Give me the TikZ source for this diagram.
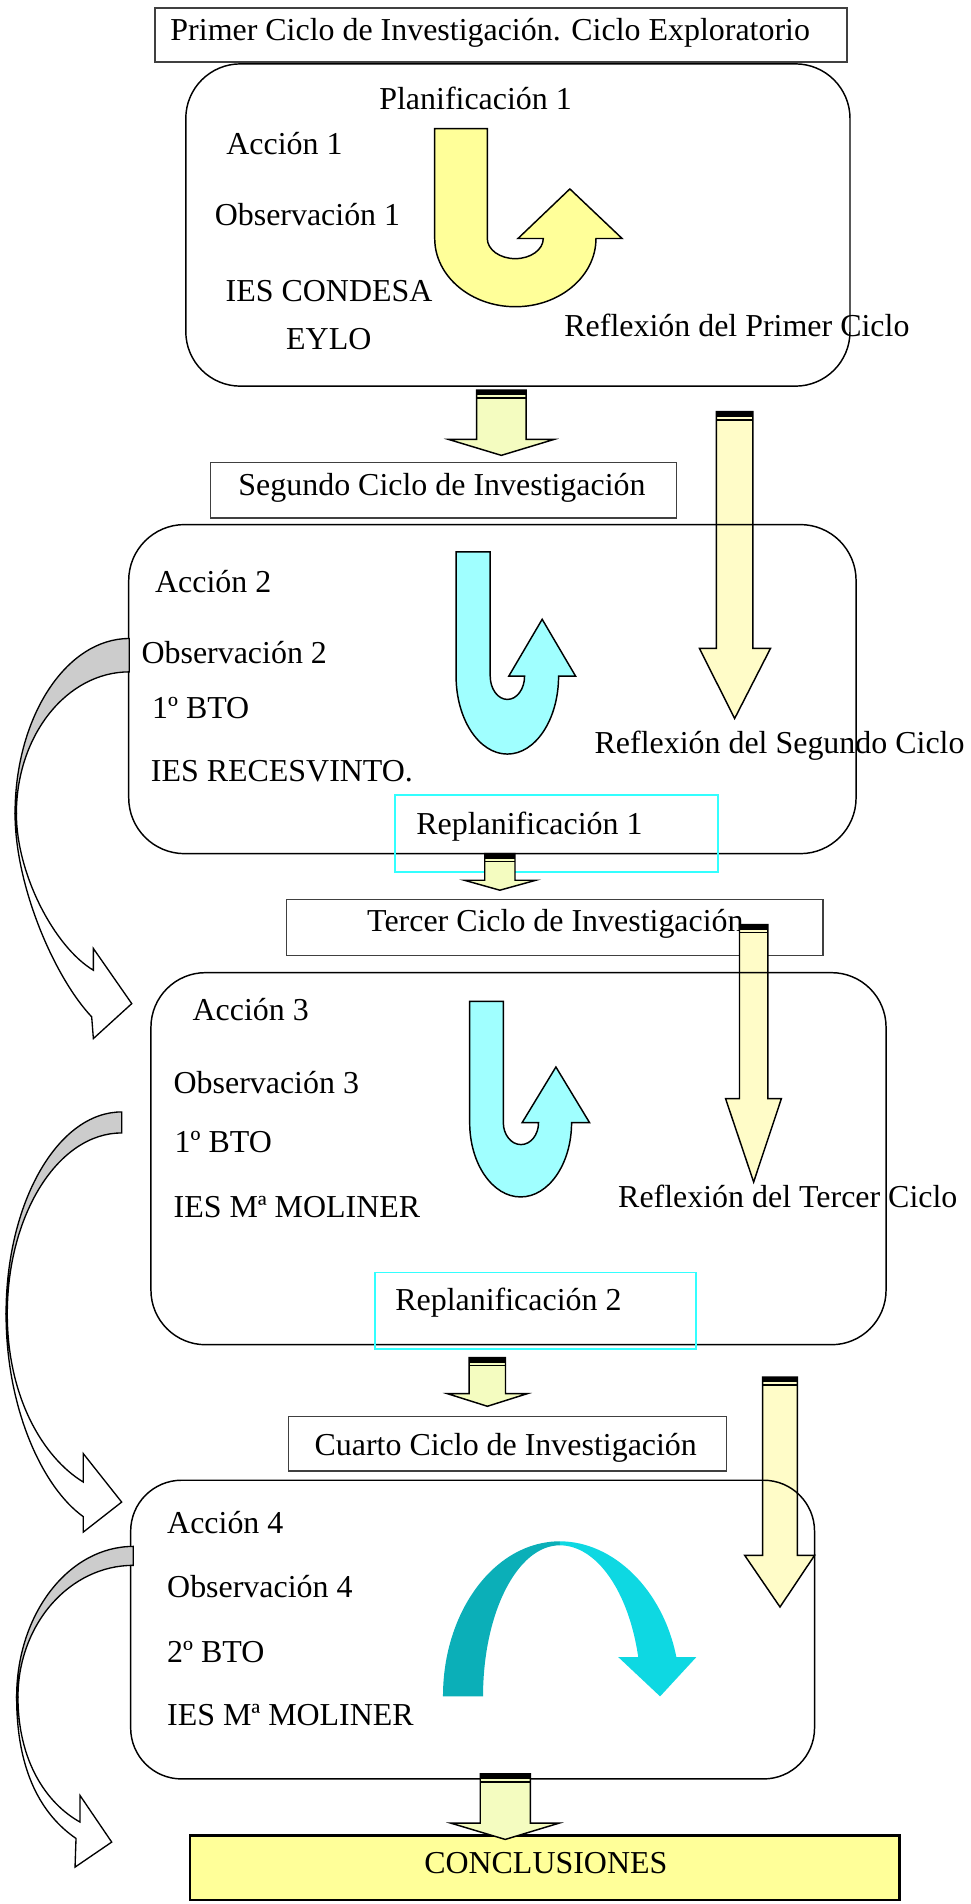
\documentclass[tikz,border=0pt]{standalone}
\usepackage{fontspec}
\setmainfont{Liberation Serif}
\definecolor{uyel}{HTML}{FFFF99}
\definecolor{ucyan}{HTML}{A0FFFF}
\definecolor{sarrow}{HTML}{F4FCC0}
\definecolor{larrow}{HTML}{FFFCC8}
\definecolor{tealdark}{HTML}{0BAFB8}
\definecolor{teallight}{HTML}{0ED8E2}
\definecolor{bandgray}{HTML}{CCCCCC}
\definecolor{replan}{HTML}{33FFFF}
\definecolor{titleline}{HTML}{404040}
\definecolor{concl}{HTML}{FFFF99}
\tikzset{
  lbl/.style={anchor=base west, inner sep=0pt, font=\fontsize{13.15}{16}\selectfont},
  titlebox/.style={draw=titleline, line width=0.6pt},
  cyclebox/.style={draw=black, line width=0.6pt},
  replanbox/.style={draw=replan, line width=0.7pt},
  blockline/.style={draw=black, line width=0.6pt},
  curvedarr/.style={draw=black, line width=0.55pt},
}
% #1 xl, #2 xr, #3 ytop, #4 ybase, #5 hl, #6 hr, #7 ytip, #8 fill
\newcommand{\downblock}[8]{%
  \draw[blockline, fill=#8] (#1,#3) -- (#2,#3) -- (#2,#4) -- (#6,#4) -- ({(#1+#2)/2},#7) -- (#5,#4) -- (#1,#4) -- cycle;
  \fill[black] (#1,#3) rectangle (#2,#3+4.4);
  \fill[black] (#1,#3+6) rectangle (#2,#3+7.3);
}
\begin{document}
\begin{tikzpicture}[x=0.5pt,y=-0.5pt]
\useasboundingbox (0,0) rectangle (799,1568);

% ---------------- First cycle ----------------
\draw[titlebox] (127.5,6.5) rectangle (697.5,51);
\node[lbl] (t1) at (140,33) {Primer Ciclo de Investigación. Ciclo Exploratorio};
\draw[cyclebox, rounded corners=22.5pt] (153,52.6) rectangle (700,318);
\node[lbl] (plan1) at (312,90) {Planificación 1};
\node[lbl] (acc1) at (186,127.5) {Acción 1};
\node[lbl] (obs1) at (176.5,186) {Observación 1};
\node[lbl] (ies1) at (185.5,248) {IES CONDESA};
\node[lbl] (eylo) at (235.3,287.7) {EYLO};
\node[lbl] (refl1) at (464.4,277.5) {Reflexión del Primer Ciclo};
% yellow U-turn arrow
\draw[blockline, fill=uyel] (358,106) -- (401.3,106) -- (401.3,196.4)
  .. controls (401.3,205.6) and (411.6,213) .. (424.35,213)
  .. controls (437.1,213) and (447.4,205.6) .. (447.4,196.4)
  -- (426.6,196.4) -- (469.3,155.6) -- (512.3,196.4) -- (490.8,196.4)
  .. controls (490.8,227.4) and (461.1,252.6) .. (424.4,252.6)
  .. controls (387.7,252.6) and (358,227.4) .. (358,196.4) -- cycle;

% ---------------- Second cycle ----------------
\downblock{392.5}{433.2}{321.2}{361.9}{369.5}{456.2}{375}{sarrow}
\draw[titlebox] (173.3,381) rectangle (557,426.4);
\node[lbl] (t2) at (196,407.7) {Segundo Ciclo de Investigación};
\downblock{590}{620}{339}{534}{576}{634.5}{591.7}{larrow}
\draw[cyclebox, rounded corners=23pt] (106,432) rectangle (705,703);
\node[lbl] (acc2) at (127.4,487.6) {Acción 2};
\node[lbl] (obs2) at (116.2,546.4) {Observación 2};
\node[lbl] (bto2) at (124.9,591.7) {1º BTO};
\node[lbl] (ies2) at (123.9,643.9) {IES RECESVINTO.};
\node[lbl] (refl2) at (489.3,620.5) {Reflexión del Segundo Ciclo};
\draw[blockline, fill=ucyan] (375.6,454.4) -- (403.7,454.4) -- (403.7,556.8)
  .. controls (403.7,567.4) and (410,576) .. (417.85,576)
  .. controls (425.7,576) and (432,567.4) .. (432,556.8)
  -- (419,556.8) -- (446.5,510) -- (474,556.8) -- (460,556.8)
  .. controls (460,592.3) and (441.1,621) .. (417.8,621)
  .. controls (394.5,621) and (375.6,592.3) .. (375.6,556.8) -- cycle;
\draw[replanbox] (325.1,654.5) rectangle (591.1,718.3);
\node[lbl] (rp1) at (342.5,687) {Replanificación 1};
\downblock{399.2}{424.1}{702.9}{724.9}{382.4}{441.3}{733.1}{sarrow}

% ---------------- Third cycle ----------------
\draw[titlebox] (235.9,740.8) rectangle (677.9,787);
\node[lbl] (t3) at (302,767.5) {Tercer Ciclo de Investigación};
\downblock{609}{632.3}{761.4}{904.7}{597.5}{643.5}{973.4}{larrow}
\draw[cyclebox, rounded corners=22.5pt] (124.3,801) rectangle (729.7,1107.4);
\node[lbl] (acc3) at (158.2,840.2) {Acción 3};
\node[lbl] (obs3) at (142.6,900.6) {Observación 3};
\node[lbl] (bto3) at (143.5,948.7) {1º BTO};
\node[lbl] (ies3) at (142.6,1002.8) {IES Mª MOLINER};
\node[lbl] (refl3) at (508.7,994) {Reflexión del Tercer Ciclo};
\draw[blockline, fill=ucyan] (386.8,824.6) -- (414.5,824.6) -- (414.5,924.5)
  .. controls (414.5,934.5) and (421,942.6) .. (429,942.6)
  .. controls (437,942.6) and (443.5,934.5) .. (443.5,924.5)
  -- (430,924.5) -- (457.8,878.7) -- (485.5,924.5) -- (470.7,924.5)
  .. controls (470.7,958.3) and (451.9,985.7) .. (428.75,985.7)
  .. controls (405.6,985.7) and (386.8,958.3) .. (386.8,924.5) -- cycle;
\draw[replanbox] (308.7,1048) rectangle (573.4,1110.7);
\node[lbl] (rp2) at (325.2,1079.1) {Replanificación 2};
\downblock{386.4}{416.3}{1118}{1147.7}{368.4}{434.3}{1158.1}{sarrow}

% ---------------- Fourth cycle ----------------
\draw[titlebox] (237.5,1166.4) rectangle (598.1,1211.4);
\node[lbl] (t4) at (258.7,1198.5) {Cuarto Ciclo de Investigación};
\downblock{628}{656.7}{1134}{1280.9}{613.3}{670.8}{1323.4}{larrow}
\draw[cyclebox, rounded corners=21pt] (107.6,1219) rectangle (670.8,1465);
\node[lbl] (acc4) at (137.3,1263) {Acción 4};
\node[lbl] (obs4) at (137.3,1315.2) {Observación 4};
\node[lbl] (bto4) at (137.3,1368.8) {2º BTO};
\node[lbl] (ies4) at (137.3,1420.9) {IES Mª MOLINER};
% teal curved arrow
\fill[tealdark] (364.8,1397) .. controls (364.8,1326.5) and (407.9,1269.3) .. (461,1269.3)
  -- (461,1272.6) .. controls (426.1,1272.6) and (397.8,1328.3) .. (397.8,1397) -- cycle;
\fill[teallight] (461,1269.3) .. controls (504.7,1269.3) and (545.8,1308.5) .. (557,1364.6)
  -- (573.5,1364.6) -- (543.6,1397) -- (509.1,1364.6) -- (525.6,1364.6)
  .. controls (517.7,1310.3) and (491.2,1272.6) .. (461,1272.6) -- cycle;

% ---------------- Conclusions ----------------
\draw[draw=black, line width=0.9pt, fill=concl] (156.5,1511.5) rectangle (740.8,1564.5);
\node[lbl] (concl) at (349,1543) {CONCLUSIONES};
\downblock{395.5}{436.7}{1460.7}{1501.4}{371.3}{460.4}{1514.8}{sarrow}

% ---------------- Left curved arrows ----------------
% arrow 1
\draw[curvedarr, fill=bandgray] (106.5,525.8) .. controls (54.5,525.8) and (12.4,590.4) .. (12.4,670)
  -- (13.5,670) .. controls (13.5,605.5) and (55.1,553.3) .. (106.5,553.3) -- cycle;
\draw[curvedarr, fill=white] (12.4,670) .. controls (12.4,730) and (45,805) .. (75.5,837.4)
  -- (76.9,855.3) -- (108.5,826.5) -- (76.9,781.1) -- (76.9,799)
  .. controls (45,780) and (13.5,720) .. (13.5,670) -- cycle;
% arrow 2
\draw[curvedarr, fill=bandgray] (100.2,915.7) .. controls (47.6,915.7) and (5,990.2) .. (5,1082)
  -- (6,1082) .. controls (6,999.7) and (48.2,933) .. (100.2,933) -- cycle;
\draw[curvedarr, fill=white] (5,1082) .. controls (5,1160) and (35,1225) .. (68.6,1249)
  -- (68.6,1261.7) -- (100.2,1237) -- (68.6,1197.1) -- (68.6,1220.5)
  .. controls (35,1200) and (6,1150) .. (6,1082) -- cycle;
% arrow 3
\draw[curvedarr, fill=bandgray] (109.8,1273.5) .. controls (56.7,1273.5) and (13.7,1329) .. (13.7,1397.6)
  -- (14.8,1397.6) .. controls (14.8,1337.7) and (57.3,1289.1) .. (109.8,1289.1) -- cycle;
\draw[curvedarr, fill=white] (13.7,1397.6) .. controls (13.7,1460) and (35,1495) .. (62.6,1514)
  -- (61.8,1537.6) -- (92,1517) -- (65.9,1478.6) -- (65.9,1500.5)
  .. controls (38,1485) and (14.8,1450) .. (14.8,1397.6) -- cycle;
\end{tikzpicture}
\end{document}
